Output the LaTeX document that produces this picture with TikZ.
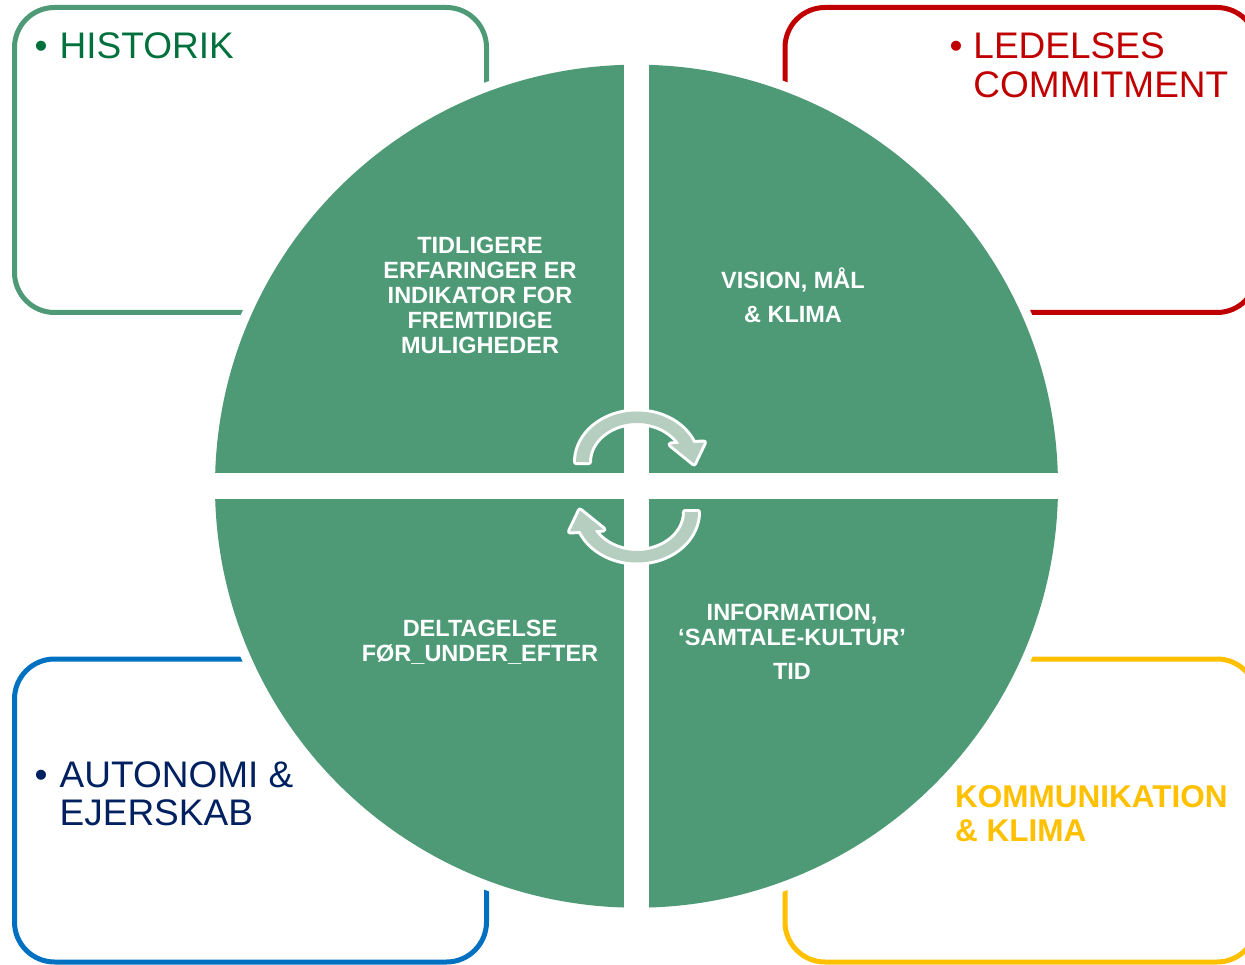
\documentclass[tikz,border=0pt]{standalone}
\usepackage{fontspec}
\setmainfont{Liberation Sans}
\definecolor{qgreen}{RGB}{78,154,118}
\definecolor{arrowlight}{RGB}{181,206,191}
\definecolor{histgreen}{RGB}{0,112,60}
\definecolor{boxred}{RGB}{192,0,0}
\definecolor{boxblue}{RGB}{0,112,192}
\definecolor{navy}{RGB}{0,32,96}
\definecolor{boxyellow}{RGB}{255,192,0}
\tikzset{
  frame/.style={line width=5pt, rounded corners=40pt},
  qtext/.style={text=white, font=\fontsize{23.5}{25}\selectfont\bfseries, align=center, inner sep=0pt},
  outer/.style={anchor=north west, inner sep=0pt, align=left, font=\fontsize{37}{39}\selectfont},
  cyc/.style={fill=arrowlight, preaction={draw=white, line width=6pt, line join=round}}
}
\begin{document}
\begin{tikzpicture}[x=1pt,y=-1pt]
\useasboundingbox (0,0) rectangle (1245,965);
\clip (0,0) rectangle (1245,965);
% frames
\draw[frame, draw=qgreen] (14.5,7.5) rectangle (486.5,312.5);
\draw[frame, draw=boxred] (785,7.5) rectangle (1257,312.5);
\draw[frame, draw=boxblue] (14.5,659) rectangle (486.5,962);
\draw[frame, draw=boxyellow] (785,659) rectangle (1257,962);
% circle
\fill[white] (636.5,486.2) circle[radius=431];
\fill[qgreen] (636.5,486.2) circle[radius=421.5];
\fill[white] (624,50) rectangle (649,925);
\fill[white] (200,473.3) rectangle (1075,499);
% quadrant texts
\node[qtext] (tl) at (480,295) {TIDLIGERE\\ERFARINGER ER\\INDIKATOR FOR\\FREMTIDIGE\\MULIGHEDER};
\node[qtext] (tr) at (793,295) {VISION, MÅL\\[9pt]\& KLIMA};
\node[qtext] (bl) at (480,642) {DELTAGELSE\\FØR\_UNDER\_EFTER};
\node[qtext] (br) at (792,641.5) {INFORMATION,\\‘SAMTALE-KULTUR’\\[9pt]TID};
% cycle arrows
\path[cyc] plot[domain=180:338, samples=50] ({637+61*cos(\x)},{462+50.5*sin(\x)})
  -- (704,442.5) -- (694,463.5) -- (670.5,444.5)
  -- plot[domain=332:180, samples=50] ({637+48*cos(\x)},{462+39*sin(\x)}) -- cycle;
\begin{scope}[rotate around={180:(637,487)}]
\path[cyc] plot[domain=180:338, samples=50] ({637+61*cos(\x)},{462+50.5*sin(\x)})
  -- (704,442.5) -- (694,463.5) -- (670.5,444.5)
  -- plot[domain=332:180, samples=50] ({637+48*cos(\x)},{462+39*sin(\x)}) -- cycle;
\end{scope}
% outer labels
\node[outer, text=histgreen] (hist) at (34.5,32.5) {•\hspace{12pt}HISTORIK};
\node[outer, text=boxred] (led) at (949.3,32.5) {•\hspace{11pt}LEDELSES\\\phantom{•}\hspace{11pt}COMMITMENT};
\node[outer, text=navy, font=\fontsize{37}{38}\selectfont] (auto) at (34.5,761.8) {•\hspace{12pt}AUTONOMI \&\\\phantom{•}\hspace{12pt}EJERSKAB};
\node[outer, text=boxyellow, font=\fontsize{31.5}{33.4}\selectfont\bfseries] (komm) at (955,785.7) {KOMMUNIKATION\\\& KLIMA};
\end{tikzpicture}
\end{document}
